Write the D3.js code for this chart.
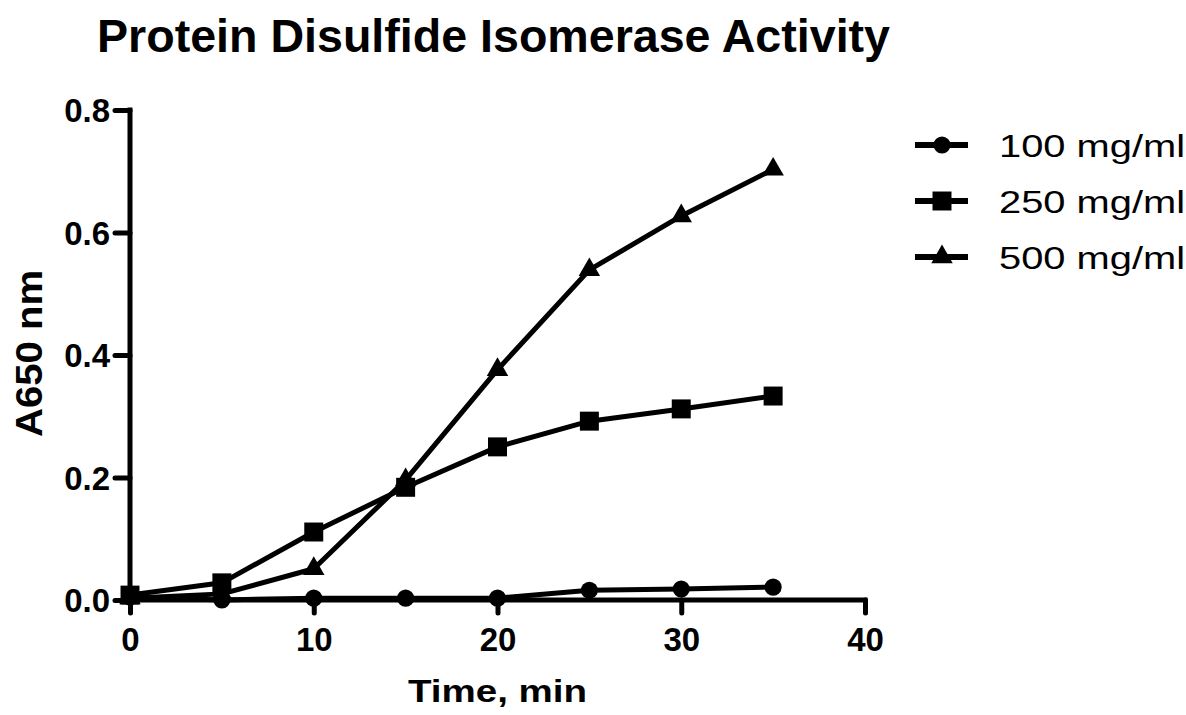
<!DOCTYPE html>
<html>
<head>
<meta charset="utf-8">
<script src="https://cdn.jsdelivr.net/npm/d3@7"></script>
<style>
  body { margin: 0; background: #fff; }
  svg { font-family: "Liberation Sans", Arial, sans-serif; }
</style>
</head>
<body>
<div id="chart"></div>
<script>
// data
const times = [0, 5, 10, 15, 20, 25, 30, 35];
const conc100 = [0.005, 0.0, 0.003, 0.003, 0.003, 0.016, 0.018, 0.021];
const conc250 = [0.008, 0.028, 0.111, 0.184, 0.25, 0.292, 0.312, 0.333];
const conc500 = [0.003, 0.01, 0.051, 0.196, 0.376, 0.539, 0.627, 0.703];
const seriesNames = ["100 mg/ml", "250 mg/ml", "500 mg/ml"];
const symbols = [d3.symbolCircle, d3.symbolSquare, d3.symbolTriangle];
const symbolSizes = [230, 360, 200];
const xTicks = [0, 10, 20, 30, 40];
const yTicks = [0.0, 0.2, 0.4, 0.6, 0.8];

const width = 1186, height = 715;
const margin = { top: 110, right: 321, bottom: 115, left: 130 };

const svg = d3.select("#chart").append("svg")
    .attr("width", width)
    .attr("height", height);

const x = d3.scaleLinear().domain([0, 40]).range([margin.left, width - margin.right]);
const y = d3.scaleLinear().domain([0, 0.8]).range([height - margin.bottom, margin.top]);

const series = [conc100, conc250, conc500].map((vals, i) => ({
    name: seriesNames[i],
    symbol: symbols[i],
    size: symbolSizes[i],
    points: times.map((t, j) => [t, vals[j]])
}));

// title
svg.append("text")
    .attr("x", 97)
    .attr("y", 52)
    .attr("font-size", 47)
    .attr("font-weight", "bold")
    .attr("textLength", 793)
    .attr("lengthAdjust", "spacingAndGlyphs")
    .text("Protein Disulfide Isomerase Activity");

// axes
const xAxis = svg.append("g")
    .attr("transform", `translate(0,${y(0)})`)
    .call(d3.axisBottom(x).tickValues(xTicks).tickSize(13).tickPadding(15).tickFormat(d3.format("d")));

const yAxis = svg.append("g")
    .attr("transform", `translate(${x(0)},0)`)
    .call(d3.axisLeft(y).tickValues(yTicks).tickSize(15).tickPadding(5).tickFormat(d3.format(".1f")));

[xAxis, yAxis].forEach(ax => {
    ax.attr("font-family", null).attr("font-size", null);
    ax.select(".domain").attr("stroke-width", 5).attr("stroke-linecap", "square");
    ax.selectAll(".tick line").attr("stroke-width", 5).attr("stroke-linecap", "round");
    ax.selectAll(".tick text")
        .attr("font-size", 33)
        .attr("font-weight", "bold")
        .attr("fill", "#000");
});
xAxis.select(".domain").attr("d", `M${x(0)},0H${x(40)}`);
yAxis.select(".domain").attr("d", `M0,${y(0)}V${y(0.8)}`);
yAxis.selectAll(".tick text").attr("dy", "0.36em");
xAxis.selectAll(".tick text").attr("dy", "0.71em");

// axis titles
svg.append("text")
    .attr("x", 408)
    .attr("y", 702)
    .attr("font-size", 31)
    .attr("font-weight", "bold")
    .attr("textLength", 179)
    .attr("lengthAdjust", "spacingAndGlyphs")
    .text("Time, min");

svg.append("text")
    .attr("transform", "translate(42,437) rotate(-90)")
    .attr("font-size", 37)
    .attr("font-weight", "bold")
    .attr("textLength", 167)
    .attr("lengthAdjust", "spacingAndGlyphs")
    .text("A650 nm");

// lines and markers
const line = d3.line().x(d => x(d[0])).y(d => y(d[1]));
const plot = svg.append("g");

series.forEach(s => {
    plot.append("path")
        .attr("d", line(s.points))
        .attr("fill", "none")
        .attr("stroke", "#000")
        .attr("stroke-width", 5)
        .attr("stroke-linejoin", "round");
    plot.selectAll(null)
        .data(s.points)
        .enter()
        .append("path")
        .attr("transform", d => `translate(${x(d[0])},${y(d[1])})`)
        .attr("d", d3.symbol().type(s.symbol).size(s.size))
        .attr("fill", "#000");
});

// legend
const legend = svg.append("g").attr("transform", "translate(915,145)");
series.forEach((s, i) => {
    const row = legend.append("g").attr("transform", `translate(0,${i * 56})`);
    row.append("line")
        .attr("x1", 0).attr("x2", 53)
        .attr("stroke", "#000")
        .attr("stroke-width", 6);
    row.append("path")
        .attr("transform", "translate(27,0)")
        .attr("d", d3.symbol().type(s.symbol).size(s.size))
        .attr("fill", "#000");
    row.append("text")
        .attr("x", 84)
        .attr("y", 12)
        .attr("font-size", 32)
        .attr("textLength", 186)
        .attr("lengthAdjust", "spacingAndGlyphs")
        .text(s.name);
});
</script>
</body>
</html>
